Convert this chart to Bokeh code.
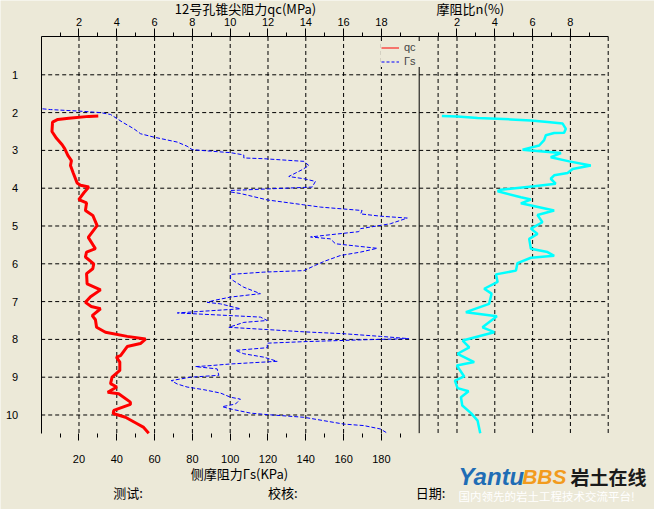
from bokeh.plotting import figure
from bokeh.models import (Range1d, LinearAxis, FixedTicker, Label, Legend, LegendItem)
from bokeh.embed import file_html
from bokeh.resources import INLINE

BG = "#ECE9D8"

# ---- data ----
qc_depth = [2.09, 2.10, 2.15, 2.18, 2.25, 2.50, 2.68, 2.85, 2.96, 3.13, 3.27, 3.40,
            3.59, 3.86, 3.92, 3.97, 4.12, 4.30, 4.39, 4.59, 4.72, 4.99, 5.30, 5.60,
            5.69, 5.82, 6.00, 6.13, 6.26, 6.53, 6.69, 6.87, 7.02, 7.13, 7.19, 7.37,
            7.48, 7.68, 7.81, 7.92, 7.99, 8.11, 8.19, 8.43, 8.47, 8.60, 8.82, 9.00,
            9.17, 9.26, 9.40, 9.44, 9.66, 9.72, 9.88, 9.96, 10.06, 10.23, 10.32, 10.48]
qc_values = [3.02, 2.52, 1.46, 0.88, 0.60, 0.57, 0.81, 1.11, 1.25, 1.41, 1.60, 1.55,
             1.69, 1.90, 2.08, 2.52, 2.26, 1.99, 2.40, 2.34, 2.73, 2.96, 2.49, 2.87,
             2.40, 2.34, 2.78, 2.73, 2.40, 2.43, 3.14, 2.61, 2.34, 2.65, 3.14, 2.70,
             2.87, 2.93, 3.40, 4.55, 5.52, 5.25, 4.55, 4.20, 3.98, 4.16, 4.16, 3.75,
             3.67, 4.00, 3.52, 4.10, 4.72, 4.72, 3.84, 3.81, 4.46, 5.08, 5.40, 5.69]

fs_depth = [1.90, 1.92, 1.96, 2.00, 2.05, 2.25, 2.43, 2.56, 2.65, 2.78, 2.89, 2.98,
            3.02, 3.06, 3.12, 3.20, 3.22, 3.29, 3.40, 3.51, 3.69, 3.75, 3.82, 3.97,
            4.06, 4.10, 4.14, 4.31, 4.44, 4.50, 4.59, 4.68, 4.74, 4.79, 4.94, 5.07,
            5.15, 5.25, 5.29, 5.34, 5.47, 5.59, 5.69, 5.78, 5.93, 6.04, 6.18, 6.22,
            6.28, 6.40, 6.62, 6.79, 6.88, 6.97, 7.02, 7.06, 7.19, 7.30, 7.41, 7.50,
            7.55, 7.68, 7.74, 7.80, 7.85, 7.92, 7.98, 8.01, 8.06, 8.10, 8.22, 8.29,
            8.38, 8.47, 8.58, 8.65, 8.70, 8.72, 8.78, 8.95, 9.00, 9.09, 9.18, 9.26,
            9.33, 9.42, 9.53, 9.58, 9.71, 9.78, 9.84, 9.95, 9.99, 10.06, 10.15, 10.24,
            10.28, 10.37, 10.48]
fs_values = [0.7, 4.9, 19.9, 31.4, 36.7, 42.9, 49.1, 52.6, 59.7, 72.0, 77.2, 79.9,
             89.6, 100.2, 107.2, 107.2, 117.8, 139.0, 141.6, 138.1, 131.0, 139.0, 145.1, 143.4,
             100.2, 100.2, 105.4, 119.6, 139.0, 147.8, 169.8, 169.0, 179.5, 193.7, 184.8, 169.0,
             168.0, 149.5, 142.5, 153.0, 155.7, 177.8, 169.0, 158.4, 150.0, 145.1, 139.0, 117.8,
             100.2, 100.2, 107.2, 116.0, 100.2, 91.3, 87.8, 94.9, 105.4, 72.0, 116.0, 119.6,
             107.2, 99.3, 119.6, 139.0, 160.1, 179.5, 194.5, 170.7, 139.0, 119.6, 119.6, 102.8,
             107.2, 117.8, 124.9, 100.2, 87.8, 81.6, 93.1, 94.0, 79.0, 68.8, 72.0, 77.2,
             86.0, 94.9, 100.2, 105.4, 102.8, 95.8, 100.2, 110.7, 119.6, 139.0, 149.5, 160.1,
             170.7, 179.5, 183.1]

n_depth = [2.09, 2.10, 2.14, 2.18, 2.21, 2.25, 2.29, 2.43, 2.53, 2.54, 2.60, 2.73,
           2.87, 2.98, 3.00, 3.07, 3.18, 3.29, 3.40, 3.49, 3.60, 3.66, 3.75, 3.88,
           3.95, 4.04, 4.08, 4.24, 4.30, 4.40, 4.59, 4.71, 4.90, 5.07, 5.21, 5.34,
           5.60, 5.69, 5.79, 5.84, 5.98, 6.18, 6.28, 6.48, 6.66, 6.79, 7.06, 7.28,
           7.39, 7.68, 7.81, 8.03, 8.21, 8.38, 8.60, 8.69, 8.98, 9.09, 9.29, 9.37,
           9.53, 9.75, 9.95, 10.15, 10.48]
n_values = [1.20, 2.03, 3.09, 4.85, 5.91, 6.79, 7.59, 7.76, 7.67, 7.14, 6.70, 6.61,
            6.35, 5.47, 5.91, 7.50, 6.96, 7.94, 9.08, 8.12, 7.85, 7.14, 6.96, 7.22,
            6.08, 4.32, 4.15, 5.38, 5.91, 5.38, 7.14, 6.26, 6.52, 5.91, 6.26, 5.82,
            5.91, 6.79, 7.14, 5.91, 5.20, 5.12, 4.06, 4.15, 3.44, 3.83, 3.70, 2.47,
            4.11, 3.35, 3.97, 2.30, 2.65, 2.03, 2.91, 1.99, 2.38, 1.89, 2.03, 2.61,
            2.21, 2.28, 2.74, 3.09, 3.23]

qc_ticks = [2, 4, 6, 8, 10, 12, 14, 16, 18]
n_ticks = [2, 4, 6, 8]
fs_ticks = [20, 40, 60, 80, 100, 120, 140, 160, 180]
depth_ticks = [1, 2, 3, 4, 5, 6, 7, 8, 9, 10]

QC_MAX = 20          # left panel: qc 0-20 MPa  (fs 0-200 kPa)
N_MAX = 10           # right panel: n 0-10 %
DEPTH_MAX = 10.48
FS_PER_QC = 10

# visible window in qc units (x) and depth units (y); the frame fills the canvas
X0, X1 = -2.153, 32.450
Y_TOP, Y_BOT = -0.9656, 12.50

p = figure(width=654, height=509,
           x_range=Range1d(X0, X1), y_range=Range1d(Y_BOT, Y_TOP),
           x_axis_type=None, y_axis_type=None,
           output_backend="svg", toolbar_location=None, min_border=0,
           background_fill_color=BG, border_fill_color=BG, outline_line_color=None)
p.extra_x_ranges = {"fs": Range1d(X0 * FS_PER_QC, X1 * FS_PER_QC),
                    "n": Range1d(X0 - QC_MAX, X1 - QC_MAX)}

FONT = "Liberation Sans"
CJK = "Noto Sans CJK SC"
DASH = "4 3"

# grid (dashed) and panel divider
grid_x = qc_ticks + [QC_MAX + 1] + [QC_MAX + t for t in n_ticks] + [QC_MAX + N_MAX]
p.segment(x0=grid_x, y0=[0] * len(grid_x), x1=grid_x, y1=[DEPTH_MAX] * len(grid_x),
          line_color="black", line_width=1, line_dash=DASH)
p.segment(x0=[0] * len(depth_ticks), y0=depth_ticks,
          x1=[QC_MAX + N_MAX] * len(depth_ticks), y1=depth_ticks,
          line_color="black", line_width=1, line_dash=DASH)
p.segment(x0=[QC_MAX], y0=[0], x1=[QC_MAX], y1=[DEPTH_MAX], line_color="black", line_width=1)

# axes fixed on the panel edges
top_major = qc_ticks + [QC_MAX + t for t in n_ticks]
top_minor = [t - 1 for t in qc_ticks] + [QC_MAX - 1] + [QC_MAX + t - 1 for t in n_ticks] + [QC_MAX + N_MAX - 1]
top = LinearAxis(ticker=FixedTicker(ticks=top_major, minor_ticks=top_minor),
                 fixed_location=0, bounds=(0, QC_MAX + N_MAX),
                 major_label_overrides={QC_MAX + t: str(t) for t in n_ticks},
                 axis_line_color="black", axis_line_width=1,
                 major_tick_out=8, major_tick_in=0, minor_tick_out=4, minor_tick_in=0,
                 major_tick_line_color="black", minor_tick_line_color="black",
                 major_label_standoff=3, major_label_text_font=FONT,
                 major_label_text_font_size="11px", major_label_text_color="black")
p.add_layout(top, "above")

bottom = LinearAxis(x_range_name="fs",
                    ticker=FixedTicker(ticks=fs_ticks,
                                       minor_ticks=[t - 10 for t in fs_ticks] + [190]),
                    fixed_location=DEPTH_MAX, bounds=(0, QC_MAX * FS_PER_QC),
                    axis_line_color=None,
                    major_tick_out=7, major_tick_in=0, minor_tick_out=4, minor_tick_in=0,
                    major_tick_line_color="black", minor_tick_line_color="black",
                    major_label_standoff=15, major_label_text_font=FONT,
                    major_label_text_font_size="11px", major_label_text_color="black")
p.add_layout(bottom, "below")

left = LinearAxis(ticker=FixedTicker(ticks=depth_ticks, minor_ticks=[]),
                  fixed_location=0, bounds=(0, DEPTH_MAX),
                  axis_line_color="black", axis_line_width=1,
                  major_tick_out=0, major_tick_in=0, minor_tick_out=0, minor_tick_in=0,
                  major_label_standoff=23, major_label_text_align="left",
                  major_label_text_font=FONT,
                  major_label_text_font_size="11px", major_label_text_color="black")
p.add_layout(left, "left")

# curves
p.line(qc_values, qc_depth, line_color="#FF0000", line_width=3)
p.line(fs_values, fs_depth, x_range_name="fs", line_color="#0000FF", line_width=1,
       line_dash="4 2")
p.line(n_values, n_depth, x_range_name="n", line_color="#00FFFF", line_width=2.5)

# legend (thin sample lines; renderers hold no drawable point)
nan = float("nan")
leg_qc = p.line([nan], [nan], line_color="#FF0000", line_width=1)
leg_fs = p.line([nan], [nan], line_color="#0000FF", line_width=1, line_dash="3 2")
legend = Legend(items=[LegendItem(label="qc", renderers=[leg_qc]),
                       LegendItem(label="Гs", renderers=[leg_fs])],
                location=(381, 442), orientation="vertical",
                border_line_color=None, background_fill_color=BG, background_fill_alpha=1,
                label_text_font=FONT, label_text_font_size="11px",
                glyph_width=18, glyph_height=11, label_height=11, label_standoff=5,
                spacing=2, padding=1, margin=0)
p.add_layout(legend)


def lbl(x, y, text, size, font=CJK, align="center", color="black", style="normal"):
    p.add_layout(Label(x=x, y=y, text=text, text_font=font, text_font_size=size,
                       text_align=align, text_baseline="middle", text_color=color,
                       text_font_style=style))


lbl(10.81, -0.767, "12号孔锥尖阻力qc(MPa)", "13px")
lbl(22.71, -0.754, "摩阻比n(%)", "13px")
lbl(10.49, 11.55, "侧摩阻力Гs(KPa)", "13px")
lbl(4.59, 12.05, "测试:", "13px")
lbl(12.79, 12.05, "校核:", "13px")
lbl(20.60, 12.05, "日期:", "13px")

# watermark
lbl(22.08, 11.63, "Yantu", "24px", font=FONT, align="left", color="#1F6DB5", style="bold italic")
lbl(25.45, 11.63, "BBS", "21px", font=FONT, align="left", color="#F29B1D", style="bold italic")
lbl(28.00, 11.63, "岩土在线", "19px", align="left", color="#1A1A1A", style="bold")
lbl(22.08, 12.13, "国内领先的岩土工程技术交流平台!", "11.5px", align="left", color="#FFFFFF")

open("out.html", "w").write(file_html(p, INLINE))
